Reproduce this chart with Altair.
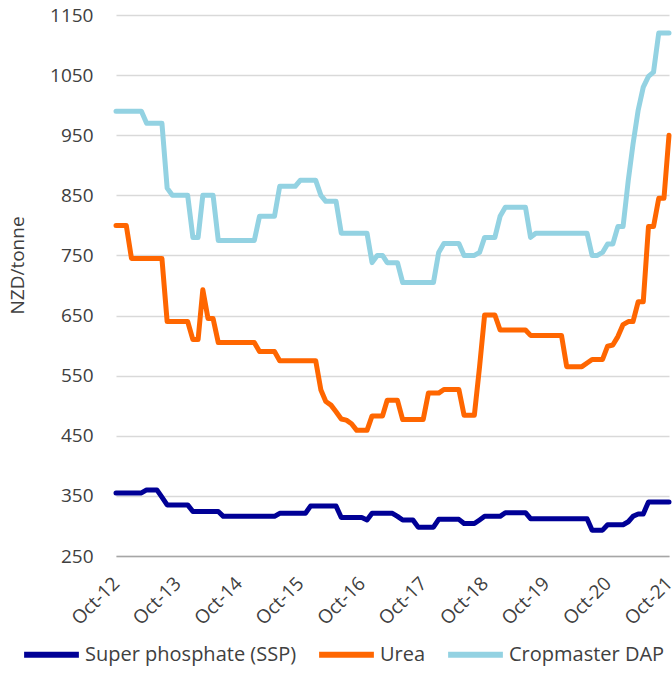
import altair as alt
import pandas as pd

# Monthly fertiliser prices, Oct-12 to Oct-21 (NZD/tonne)
series_names = ["Super phosphate (SSP)", "Urea", "Cropmaster DAP"]
series_colors = ["#000096", "#FF6600", "#93D2E2"]

ssp = [
    355, 355, 355, 355, 355, 355, 360, 360, 360, 348, 335, 335,
    335, 335, 335, 324, 324, 324, 324, 324, 324, 316, 316, 316,
    316, 316, 316, 316, 316, 316, 316, 316, 321, 321, 321, 321,
    321, 321, 333, 333, 333, 333, 333, 333, 314, 314, 314, 314,
    314, 310, 321, 321, 321, 321, 321, 316, 310, 310, 310, 298,
    298, 298, 298, 311, 311, 311, 311, 311, 304, 304, 304, 310,
    316, 316, 316, 316, 322, 322, 322, 322, 322, 312, 312, 312,
    312, 312, 312, 312, 312, 312, 312, 312, 312, 293, 293, 293,
    302, 302, 302, 302, 307, 316, 320, 320, 340, 340, 340, 340,
    340,
]

urea = [
    800, 800, 800, 745, 745, 745, 745, 745, 745, 745, 640, 640,
    640, 640, 640, 610, 610, 693, 645, 645, 605, 605, 605, 605,
    605, 605, 605, 605, 590, 590, 590, 590, 575, 575, 575, 575,
    575, 575, 575, 575, 526, 507, 501, 490, 478, 476, 470, 459,
    459, 459, 483, 483, 483, 509, 509, 509, 477, 477, 477, 477,
    477, 521, 521, 521, 527, 527, 527, 527, 484, 484, 484, 565,
    651, 651, 651, 626, 626, 626, 626, 626, 626, 617, 617, 617,
    617, 617, 617, 617, 565, 565, 565, 565, 571, 577, 577, 577,
    599, 601, 615, 635, 640, 640, 673, 673, 798, 798, 845, 845,
    950,
]

dap = [
    990, 990, 990, 990, 990, 990, 970, 970, 970, 970, 862, 850,
    850, 850, 850, 780, 780, 850, 850, 850, 775, 775, 775, 775,
    775, 775, 775, 775, 815, 815, 815, 815, 865, 865, 865, 865,
    875, 875, 875, 875, 850, 840, 840, 840, 787, 787, 787, 787,
    787, 787, 738, 750, 750, 738, 738, 738, 705, 705, 705, 705,
    705, 705, 705, 755, 770, 770, 770, 770, 750, 750, 750, 755,
    780, 780, 780, 815, 830, 830, 830, 830, 830, 780, 787, 787,
    787, 787, 787, 787, 787, 787, 787, 787, 787, 750, 750, 755,
    769, 769, 798, 798, 875, 935, 992, 1030, 1048, 1055, 1120, 1120,
    1120,
]

y_ticks = [250, 350, 450, 550, 650, 750, 850, 950, 1050, 1150]
tick_years = list(range(2012, 2022))

months = pd.date_range("2012-10-01", periods=len(ssp), freq="MS")

frames = []
for name, vals in zip(series_names, [ssp, urea, dap]):
    frames.append(pd.DataFrame({"month": months, "price": vals, "series": name}))
df = pd.concat(frames, ignore_index=True)

FONT = "Open Sans"
TEXT = "#404040"

x_axis = alt.Axis(
    values=[alt.DateTime(year=y, month=10, date=1) for y in tick_years],
    format="%b-%y",
    labelAngle=-45,
    labelAlign="right",
    labelBaseline="middle",
    labelPadding=24,
    labelFontSize=19,
    labelFont=FONT,
    labelColor=TEXT,
    labelOverlap=False,
    labelFlush=False,
    ticks=False,
    grid=False,
    domain=True,
    domainColor="#A6A6A6",
    domainWidth=1.5,
    title=None,
)

y_axis = alt.Axis(
    values=y_ticks,
    format="d",
    labelFontSize=19,
    labelFont=FONT,
    labelColor=TEXT,
    labelPadding=23,
    ticks=False,
    domain=False,
    grid=True,
    gridColor="#D9D9D9",
    gridWidth=1.5,
    title="NZD/tonne",
    titleFont=FONT,
    titleFontSize=19,
    titleFontWeight="normal",
    titleColor=TEXT,
    titleX=-99,
    titleY=250,
    titleAlign="center",
    titleBaseline="middle",
    titleAngle=270,
)

legend = alt.Legend(
    title=None,
    orient="none",
    direction="horizontal",
    legendX=-95,
    legendY=609,
    symbolType="stroke",
    symbolSize=3000,
    symbolStrokeWidth=6,
    labelFont=FONT,
    labelFontSize=20,
    labelColor=TEXT,
    labelLimit=400,
    labelOffset=3,
    columnPadding=10,
)

chart = (
    alt.Chart(df)
    .mark_line(strokeWidth=5, strokeCap="round", strokeJoin="round")
    .encode(
        x=alt.X(
            "month:T",
            scale=alt.Scale(
                domain=[
                    alt.DateTime(year=2012, month=10, date=1),
                    alt.DateTime(year=2021, month=10, date=1),
                ]
            ),
            axis=x_axis,
        ),
        y=alt.Y(
            "price:Q",
            scale=alt.Scale(domain=[250, 1150], nice=False, zero=False),
            axis=y_axis,
        ),
        color=alt.Color(
            "series:N",
            scale=alt.Scale(domain=series_names, range=series_colors),
            sort=series_names,
            legend=legend,
        ),
    )
    .properties(
        width=553,
        height=541,
        autosize=alt.AutoSizeParams(type="none"),
        padding={"left": 116, "top": 15, "right": 3, "bottom": 127},
        background="white",
    )
    .configure_view(stroke=None)
)

chart.save("out.html", embed_options={"renderer": "svg", "actions": False})
